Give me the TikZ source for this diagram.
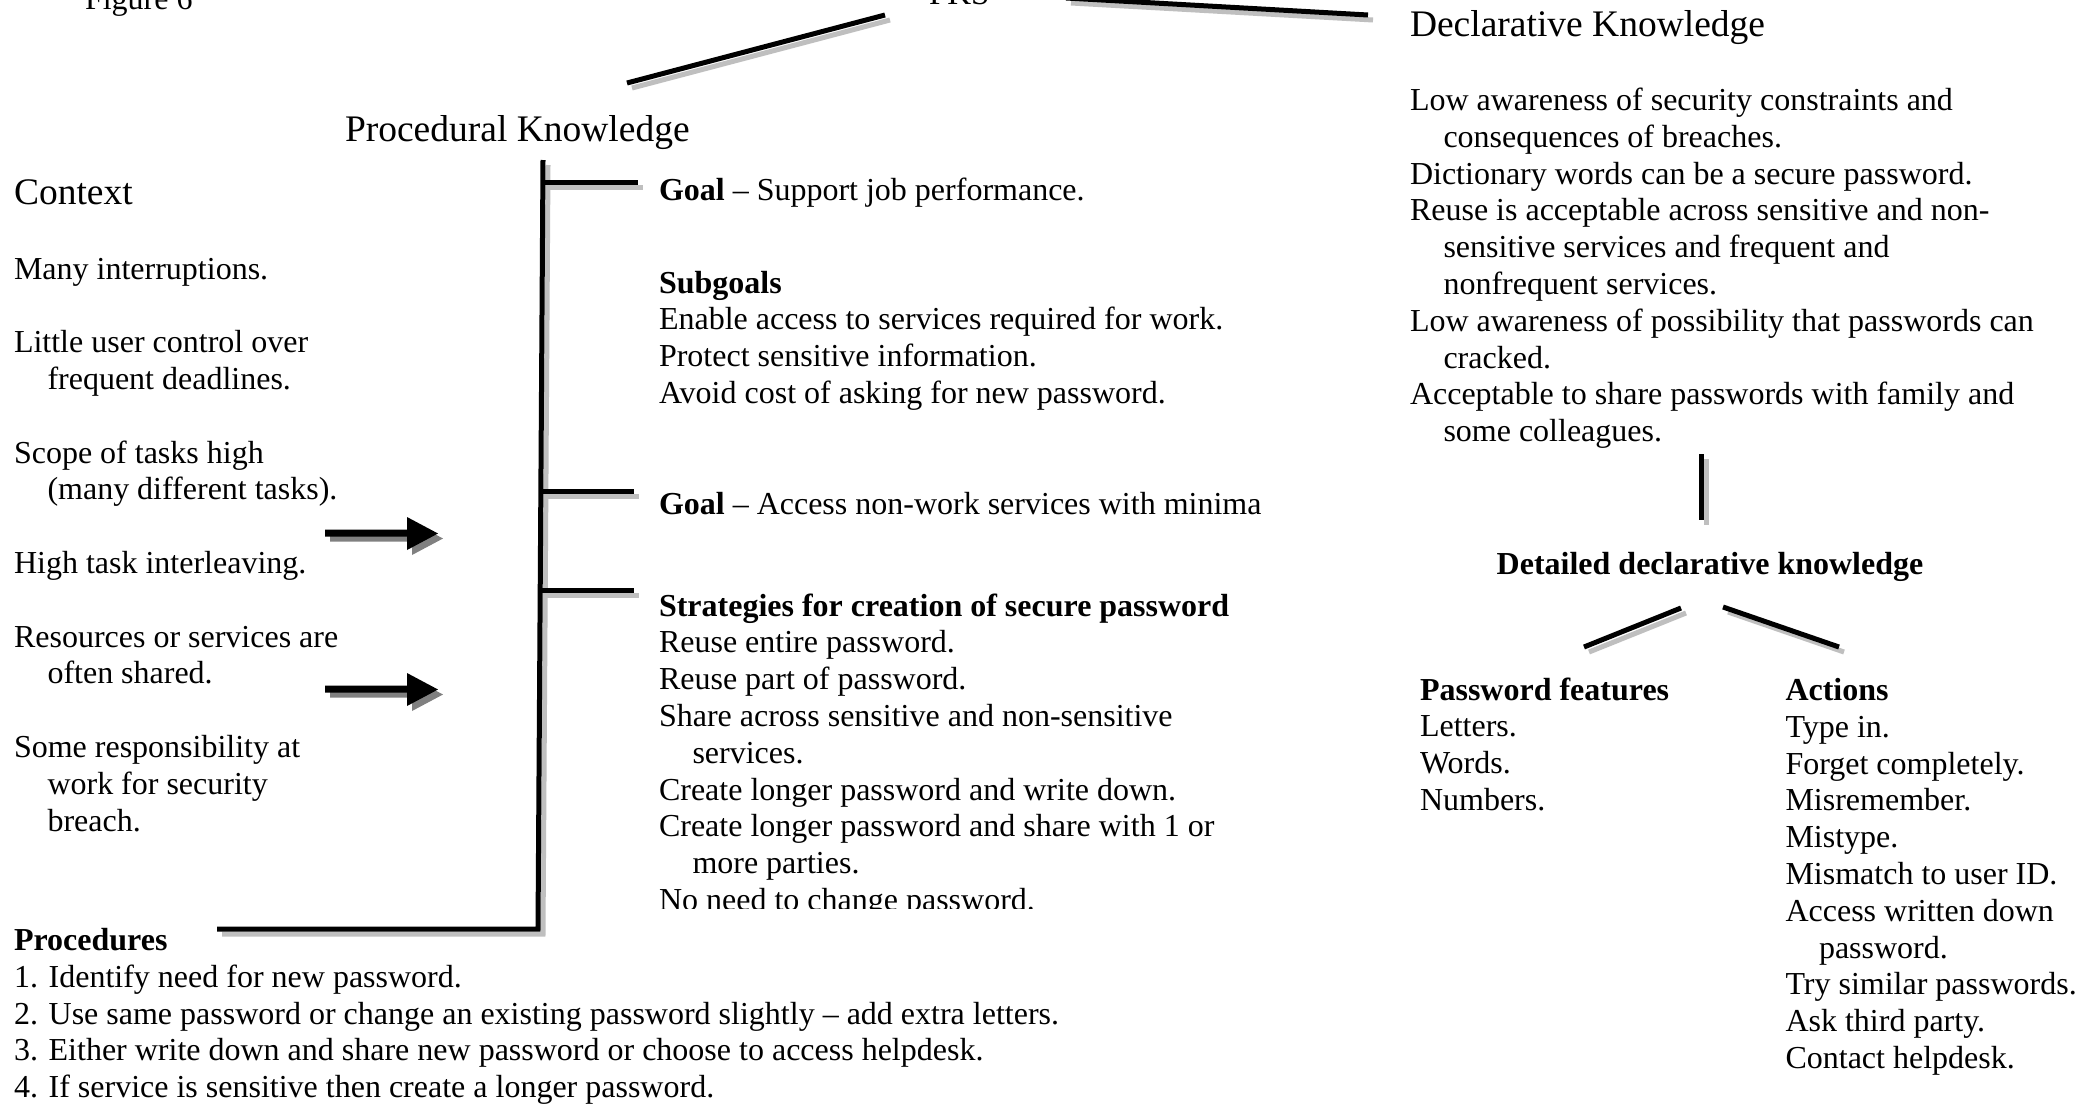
\documentclass[tikz,border=0pt]{standalone}
\usepackage{fontspec}
\setmainfont{Liberation Serif}
\usetikzlibrary{calc}
\newcommand\bodyfont{\fontsize{32}{36.8}\selectfont}
\newcommand\headfont{\fontsize{37.5}{43}\selectfont}
\newcommand\hind{\hspace*{33.5pt}}
\begin{document}
\begin{tikzpicture}[x=1pt,y=-1pt,
  txt/.style={anchor=base west, inner sep=0pt, outer sep=0pt, align=left, font=\bodyfont},
  hd/.style={anchor=base west, inner sep=0pt, outer sep=0pt, font=\headfont},
  bar/.style={line width=5pt, draw=black, line join=miter},
  barshadow/.style={line width=5pt, draw=black!25, line join=miter, transform canvas={shift={(5pt,-5pt)}}},
  arrowfill/.style={fill=black},
  arrowshadow/.style={fill=black!50, transform canvas={shift={(5pt,-5pt)}}}]
\clip (0,0) rectangle (2092,1103);
\fill[white] (0,0) rectangle (2092,1103);

% multi-line nodes are placed by the baseline of their LAST line

% ---- headings
\node[txt] (fig) at (85,9) {Figure 6};
\node[txt, font=\fontsize{33}{38}\selectfont] (pks) at (929,4) {PKS};
\node[hd] (proc) at (345,141) {Procedural Knowledge};
\node[hd] (decl) at (1410,36.5) {Declarative Knowledge};
\node[hd] (ctx) at (14,204) {Context};

% ---- context (first line 279)
\node[txt] (ctxitems) at (14,831) {Many interruptions.\\[36.8pt]
Little user control over\\
\hind frequent deadlines.\\[36.8pt]
Scope of tasks high\\
\hind (many different tasks).\\[36.8pt]
High task interleaving.\\[36.8pt]
Resources or services are\\
\hind often shared.\\[36.8pt]
Some responsibility at\\
\hind work for security\\
\hind breach.};

% ---- middle column
\node[txt] (g1) at (659,200) {\textbf{Goal} – Support job performance.};
\node[txt] (sub) at (659,403.4) {\textbf{Subgoals}\\
Enable access to services required for work.\\
Protect sensitive information.\\
Avoid cost of asking for new password.};
\node[txt] (g2) at (659,514) {\textbf{Goal} – Access non-work services with minima};
\begin{scope}
\clip (640,560) rectangle (1320,908.5);
\node[txt] (strat) at (659,910.4) {\textbf{Strategies for creation of secure password}\\
Reuse entire password.\\
Reuse part of password.\\
Share across sensitive and non-sensitive\\
\hind services.\\
Create longer password and write down.\\
Create longer password and share with 1 or\\
\hind more parties.\\
No need to change password.};
\end{scope}

% ---- procedures (first line 950.5)
\node[txt] (procs) at (14,1097.7) {\textbf{Procedures}\\
1. Identify need for new password.\\
2. Use same password or change an existing password slightly – add extra letters.\\
3. Either write down and share new password or choose to access helpdesk.\\
4. If service is sensitive then create a longer password.};

% ---- declarative column (first line 110.5)
\node[txt] (dk) at (1410,441.7) {Low awareness of security constraints and\\
\hind consequences of breaches.\\
Dictionary words can be a secure password.\\
Reuse is acceptable across sensitive and non-\\
\hind sensitive services and frequent and\\
\hind nonfrequent services.\\
Low awareness of possibility that passwords can\\
\hind cracked.\\
Acceptable to share passwords with family and\\
\hind some colleagues.};
\node[txt, anchor=base] (ddk) at (1710,574) {\textbf{Detailed declarative knowledge}};
\node[txt] (pf) at (1420,810.4) {\textbf{Password features}\\
Letters.\\
Words.\\
Numbers.};
\node[txt] (act) at (1785.5,1068.5) {\textbf{Actions}\\
Type in.\\
Forget completely.\\
Misremember.\\
Mistype.\\
Mismatch to user ID.\\
Access written down\\
\hind password.\\
Try similar passwords.\\
Ask third party.\\
Contact helpdesk.};

% ---- line end points
\coordinate (pl1) at (885,15);
\coordinate (pl2) at (627,83);
\coordinate (pr1) at (1066,-2);
\coordinate (pr2) at (1368,15);
\coordinate (vtop) at (543,160);
\coordinate (vbot) at (538,929);
\coordinate (hend) at (217,929);
\coordinate (t1a) at (542.5,182);
\coordinate (t1b) at (638,182);
\coordinate (t2a) at (540,491);
\coordinate (t2b) at (634,491);
\coordinate (t3a) at (540,590);
\coordinate (t3b) at (634,590);
\coordinate (dv1) at (1701.5,454);
\coordinate (dv2) at (1701.5,520);
\coordinate (dl1) at (1681,608);
\coordinate (dl2) at (1584,647);
\coordinate (dr1) at (1723,607);
\coordinate (dr2) at (1839,647);
\coordinate (a1) at (325,533);
\coordinate (a2) at (325,689);

% ---- shadows
\draw[barshadow] (pl1) -- (pl2);
\draw[barshadow] (pr1) -- (pr2);
\draw[barshadow] (vtop) -- (vbot) -- (hend);
\draw[barshadow] (t1a) -- (t1b);
\draw[barshadow] (t2a) -- (t2b);
\draw[barshadow] (t3a) -- (t3b);
\draw[barshadow] (dv1) -- (dv2);
\draw[barshadow] (dl1) -- (dl2);
\draw[barshadow] (dr1) -- (dr2);
\fill[arrowshadow] (a1) ++(0,-3.5) -- ++(82,0) -- ++(0,-12.5) -- ++(31,16.5) -- ++(-31,16.5) -- ++(0,-13.5) -- ++(-82,0) -- cycle;
\fill[arrowshadow] (a2) ++(0,-3.5) -- ++(82,0) -- ++(0,-12.5) -- ++(31,16.5) -- ++(-31,16.5) -- ++(0,-13.5) -- ++(-82,0) -- cycle;

% ---- black lines
\draw[bar] (pl1) -- (pl2);
\draw[bar] (pr1) -- (pr2);
\draw[bar] (vtop) -- (vbot) -- (hend);
\draw[bar] (t1a) -- (t1b);
\draw[bar] (t2a) -- (t2b);
\draw[bar] (t3a) -- (t3b);
\draw[bar] (dv1) -- (dv2);
\draw[bar] (dl1) -- (dl2);
\draw[bar] (dr1) -- (dr2);
\fill[arrowfill] (a1) ++(0,-3.5) -- ++(82,0) -- ++(0,-12.5) -- ++(31,16.5) -- ++(-31,16.5) -- ++(0,-13.5) -- ++(-82,0) -- cycle;
\fill[arrowfill] (a2) ++(0,-3.5) -- ++(82,0) -- ++(0,-12.5) -- ++(31,16.5) -- ++(-31,16.5) -- ++(0,-13.5) -- ++(-82,0) -- cycle;
\end{tikzpicture}
\end{document}
